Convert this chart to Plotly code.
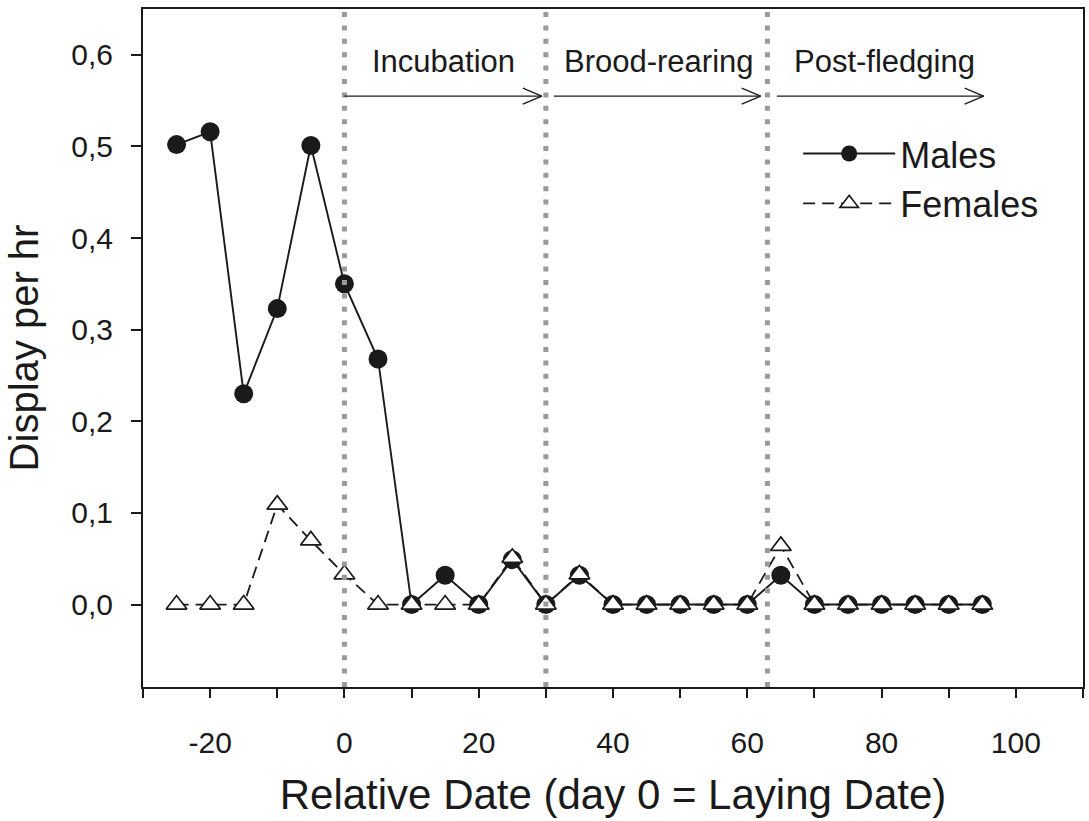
import plotly.graph_objects as go

# ---- data ----
days = [-25, -20, -15, -10, -5, 0, 5, 10, 15, 20, 25, 30, 35, 40, 45, 50, 55, 60, 65, 70, 75, 80, 85, 90, 95]
males = [0.502, 0.516, 0.230, 0.323, 0.501, 0.350, 0.268, 0.0, 0.032, 0.0, 0.049, 0.0, 0.032,
         0.0, 0.0, 0.0, 0.0, 0.0, 0.032, 0.0, 0.0, 0.0, 0.0, 0.0, 0.0]
females = [0.0, 0.0, 0.0, 0.109, 0.070, 0.033, 0.0, 0.0, 0.0, 0.0, 0.051, 0.0, 0.033,
           0.0, 0.0, 0.0, 0.0, 0.0, 0.064, 0.0, 0.0, 0.0, 0.0, 0.0, 0.0]

phase_bounds = [0, 30, 63]
phase_names = ["Incubation", "Brood-rearing", "Post-fledging"]
phase_label_x = [14.7, 46.8, 80.5]
arrow_start = [0.0, 31.2, 64.4]
arrow_end = [29.4, 62.0, 95.2]
arrow_y = 0.555
label_y = 0.593

x_tickvals = [-30, -20, -10, 0, 10, 20, 30, 40, 50, 60, 70, 80, 90, 100, 110]
x_ticktext = ["", "-20", "", "0", "", "20", "", "40", "", "60", "", "80", "", "100", ""]

FONT = "Liberation Sans, Arial, Helvetica, sans-serif"
INK = "#1a1a1a"

fig = go.Figure()
fig.add_trace(go.Scatter(
    x=days, y=males, name="Males", mode="lines+markers",
    line=dict(color=INK, width=1.9),
    marker=dict(symbol="circle", size=19, color=INK, line=dict(width=0)),
))
fig.add_trace(go.Scatter(
    x=days, y=females, name="Females", mode="lines+markers",
    line=dict(color=INK, width=1.8, dash="12px,7px"),
    marker=dict(symbol="triangle-up", size=18, color="white", line=dict(color=INK, width=1.7)),
))

shapes = []
for b in phase_bounds:
    shapes.append(dict(type="line", xref="x", yref="paper", x0=b, x1=b, y0=0, y1=1,
                       line=dict(color="#9a9a9a", width=5, dash="5px,8.4px"), layer="above"))
for s, e in zip(arrow_start, arrow_end):
    shapes.append(dict(type="line", xref="x", yref="y", x0=s, x1=e, y0=arrow_y, y1=arrow_y,
                       line=dict(color=INK, width=1.3), layer="above"))
    for dy in (8, -8):
        shapes.append(dict(type="line", xref="x", yref="y",
                           xsizemode="pixel", xanchor=e, x0=-19, x1=0,
                           ysizemode="pixel", yanchor=arrow_y, y0=dy, y1=0,
                           line=dict(color=INK, width=1.3), layer="above"))

annotations = []
for name, lx in zip(phase_names, phase_label_x):
    annotations.append(dict(x=lx, y=label_y, xref="x", yref="y", text=name, showarrow=False,
                            font=dict(family=FONT, size=31, color=INK), xanchor="center", yanchor="middle"))

fig.update_layout(
    width=1089, height=821,
    margin=dict(l=143, r=4, t=9, b=134),
    paper_bgcolor="white", plot_bgcolor="white",
    separators=",.",
    font=dict(family=FONT, color=INK),
    shapes=shapes, annotations=annotations,
    showlegend=True,
    legend=dict(x=0.697, y=0.831, xanchor="left", yanchor="top",
                font=dict(family=FONT, size=36, color=INK),
                bgcolor="rgba(0,0,0,0)", itemwidth=92, tracegroupgap=0),
    xaxis=dict(range=[-30, 110], tickmode="array", tickvals=x_tickvals, ticktext=x_ticktext,
               showgrid=False, zeroline=False, showline=True, mirror=True,
               linecolor=INK, linewidth=2, ticks="outside", ticklen=9, tickwidth=1.6, tickcolor=INK,
               tickfont=dict(family=FONT, size=30, color=INK), ticklabelstandoff=19,
               title=dict(text="Relative Date (day 0 = Laying Date)", font=dict(family=FONT, size=42, color=INK),
                          standoff=22)),
    yaxis=dict(range=[-0.09, 0.65], tick0=0, dtick=0.1, tickformat=".1f",
               showgrid=False, zeroline=False, showline=True, mirror=True,
               linecolor=INK, linewidth=2, ticks="outside", ticklen=10, tickwidth=1.6, tickcolor=INK,
               tickfont=dict(family=FONT, size=30, color=INK), ticklabelstandoff=12,
               title=dict(text="Display per hr", font=dict(family=FONT, size=40, color=INK), standoff=20)),
)

fig.write_html("out.html")
